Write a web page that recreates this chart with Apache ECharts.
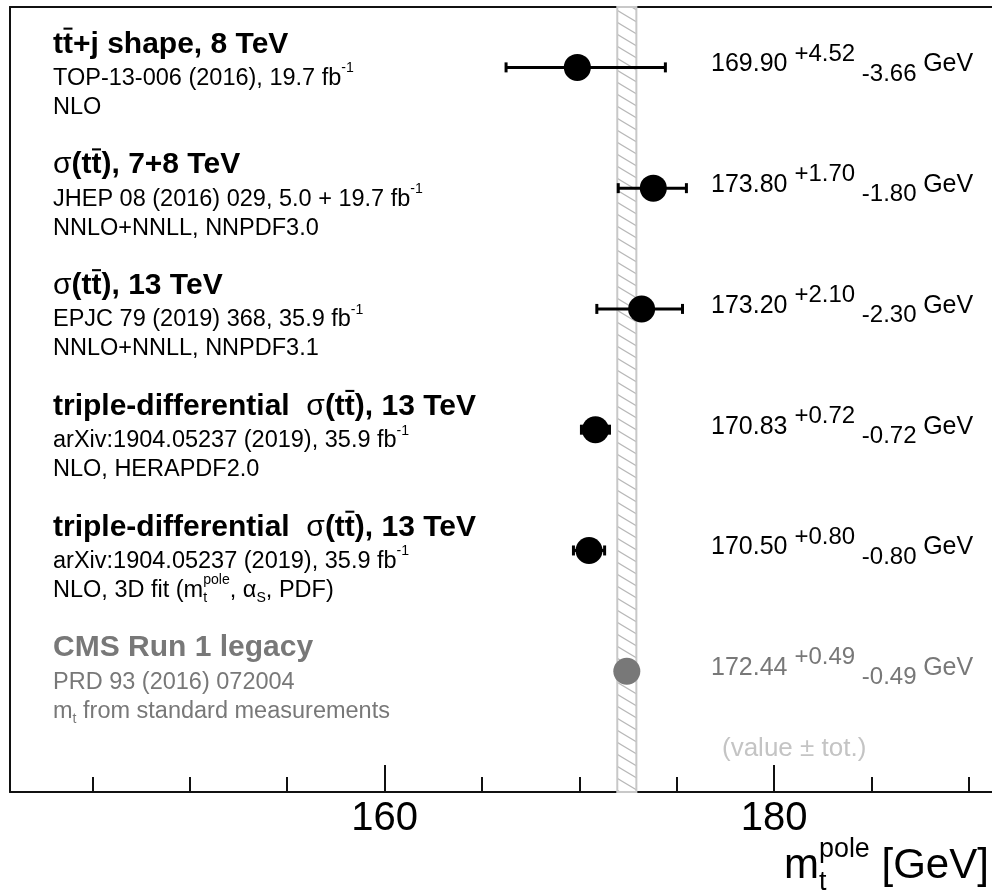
<!DOCTYPE html>
<html><head><meta charset="utf-8">
<script src="https://cdn.jsdelivr.net/npm/echarts@6/dist/echarts.min.js"></script>
<style>html,body{margin:0;padding:0;background:#fff}#c{width:992px;height:893px}</style>
</head><body><div id="c"></div>
<script>
// ---- data ----
const central = [169.90, 173.80, 173.20, 170.83, 170.50, 172.44];
const errUp   = [4.52, 1.70, 2.10, 0.72, 0.80, 0.49];
const errDown = [3.66, 1.80, 2.30, 0.72, 0.80, 0.49];
const rowTitles = [
  "t!{t}+j shape, 8 TeV",
  "~{σ}(t!{t}), 7+8 TeV",
  "~{σ}(t!{t}), 13 TeV",
  "triple-differential  ~{σ}(t!{t}), 13 TeV",
  "triple-differential  ~{σ}(t!{t}), 13 TeV",
  "CMS Run 1 legacy"
];
const rowRefs = [
  "TOP-13-006 (2016), 19.7 fb^{-1}",
  "JHEP 08 (2016) 029, 5.0 + 19.7 fb^{-1}",
  "EPJC 79 (2019) 368, 35.9 fb^{-1}",
  "arXiv:1904.05237 (2019), 35.9 fb^{-1}",
  "arXiv:1904.05237 (2019), 35.9 fb^{-1}",
  "PRD 93 (2016) 072004"
];
const rowMethods = [
  "NLO",
  "NNLO+NNLL, NNPDF3.0",
  "NNLO+NNLL, NNPDF3.1",
  "NLO, HERAPDF2.0",
  "NLO, 3D fit (m#{t}{pole}, α_{S}, PDF)",
  "m_{t} from standard measurements"
];
const refIndex = 5;               // reference row (grey, hatched band)
const minorTicks = [145, 150, 155, 165, 170, 175, 185, 190];
const majorTicks = [160, 180];
const xMin = 140.77, xMax = 191.19;
const axisTitle = "m#{t}{pole} [GeV]";
const bandNote = "(value ± tot.)";

// ---- helpers ----
const FAM = '"Liberation Sans", Arial, Helvetica, sans-serif';
const mctx = document.createElement('canvas').getContext('2d');
function fontOf(size, w){ return w + ' ' + size + 'px ' + FAM; }
function measure(t, f){ mctx.font = f; return mctx.measureText(t).width; }
function parse(s){
  const segs = []; let buf = ''; let i = 0;
  const flush = () => { if (buf) { segs.push({k:'n', t:buf}); buf=''; } };
  const grab = () => { const j = s.indexOf('}', i); const r = s.slice(i+1, j); i = j+1; return r; };
  while (i < s.length){
    const c = s[i];
    if ('^_~!#'.includes(c) && s[i+1] === '{'){
      flush(); i++;
      if (c === '#'){ const a = grab(); const b = grab(); segs.push({k:'#', sub:a, sup:b}); }
      else segs.push({k:c, t:grab()});
    } else { buf += c; i++; }
  }
  flush(); return segs;
}
function layout(str, x0, yc, fs, weight, color, o){
  o = Object.assign({ss:0.6, supDy:-0.42, subDy:0.32}, o||{});
  const out = []; let x = x0;
  const put = (t, px, py, size, w) => {
    const f = fontOf(size, w);
    out.push({type:'text', x:px, y:py, silent:true,
      style:{text:t, font:f, fill:color, align:'left', verticalAlign:'middle', textAlign:'left', textVerticalAlign:'middle'}});
    return measure(t, f);
  };
  for (const g of parse(str)){
    if (g.k === 'n') x += put(g.t, x, yc, fs, weight);
    else if (g.k === '~') x += put(g.t, x, yc, fs, 'normal');
    else if (g.k === '!'){
      const w = put(g.t, x, yc, fs, weight);
      out.push({type:'rect', silent:true, shape:{x:x+w*0.05, y:yc-fs*0.56, width:w*0.9, height:Math.max(1.5, fs*0.07)}, style:{fill:color}});
      x += w;
    }
    else if (g.k === '^') x += put(g.t, x, yc+fs*o.supDy, fs*o.ss, weight);
    else if (g.k === '_') x += put(g.t, x, yc+fs*o.subDy, fs*o.ss, weight);
    else if (g.k === '#'){
      const a = put(g.sub, x, yc+fs*o.subDy, fs*o.ss, weight);
      const b = put(g.sup, x, yc+fs*o.supDy, fs*o.ss, weight);
      x += Math.max(a, b);
    }
  }
  return out;
}
function fmt(v){ return v.toFixed(2); }

// hatch pattern
const pat = document.createElement('canvas');
pat.width = 20; pat.height = 12;
(function(){
  const c = pat.getContext('2d');
  c.fillStyle = '#fff'; c.fillRect(0,0,20,12);
  c.strokeStyle = '#b8b8b8'; c.lineWidth = 1.2;
  c.beginPath();
  c.moveTo(-20,-12); c.lineTo(40,24);
  c.moveTo(-20,0); c.lineTo(20,24);
  c.moveTo(0,-12); c.lineTo(40,12);
  c.stroke();
})();

const GREY = '#787878';
const chart = echarts.init(document.getElementById('c'), null, {renderer:'canvas'});
const xAxisBase = {type:'value', min:xMin, max:xMax, gridIndex:0, splitLine:{show:false}};
chart.setOption({
  animation:false,
  backgroundColor:'#fff',
  grid:{left:10, top:7, right:0, bottom:101, show:false},
  xAxis:[
    Object.assign({}, xAxisBase, {
      position:'bottom',
      axisLine:{show:true, onZero:false, lineStyle:{color:'#111', width:2}},
      axisTick:{show:true, inside:true, length:27, customValues:majorTicks, lineStyle:{color:'#111', width:2}},
      axisLabel:{show:true, customValues:majorTicks, fontSize:40, fontFamily:FAM, color:'#000', margin:7}
    }),
    Object.assign({}, xAxisBase, {
      position:'bottom',
      axisLine:{show:false, onZero:false},
      axisTick:{show:true, inside:true, length:15, customValues:minorTicks, lineStyle:{color:'#111', width:2}},
      axisLabel:{show:false}
    }),
    Object.assign({}, xAxisBase, {
      position:'top',
      axisLine:{show:true, onZero:false, lineStyle:{color:'#111', width:2}},
      axisTick:{show:false}, axisLabel:{show:false}
    })
  ],
  yAxis:{type:'value', inverse:true, min:-0.5, max:6.0, position:'left',
    axisLine:{show:true, onZero:false, lineStyle:{color:'#111', width:2}},
    axisTick:{show:false}, axisLabel:{show:false}, splitLine:{show:false}},
  series:[
    {
      type:'custom', name:'labels', z:5, clip:false,
      data: central.map((c,i)=>[xMin, i]),
      encode:{x:0, y:1},
      renderItem:(params, api)=>{
        const i = api.value(1);
        const p = api.coord([xMin, i]);
        const col = i === refIndex ? GREY : '#000';
        const lx = p[0] + 43;
        let ch = [];
        ch = ch.concat(layout(rowTitles[i], lx, p[1]-23, 30, 'bold', col));
        ch = ch.concat(layout(rowRefs[i], lx, p[1]+11, 23.5, 'normal', col));
        ch = ch.concat(layout(rowMethods[i], lx, p[1]+40, 23.5, 'normal', col));
        const vs = fmt(central[i]) + ' ^{+' + fmt(errUp[i]) + ' }_{-' + fmt(errDown[i]) + ' }GeV';
        ch = ch.concat(layout(vs, 711, p[1]-3, 25, 'normal', col, {ss:0.96, supDy:-0.42, subDy:0.38}));
        if (i === refIndex) ch = ch.concat(layout(bandNote, 722, p[1]+78, 26, 'normal', '#c4c4c4'));
        return {type:'group', children:ch};
      }
    },
    {
      type:'custom', name:'errors', z:3,
      data: central.map((c,i)=>[c-errDown[i], c+errUp[i], i]),
      encode:{x:[0,1], y:2},
      renderItem:(params, api)=>{
        const i = api.value(2);
        const lo = api.coord([api.value(0), i]);
        const hi = api.coord([api.value(1), i]);
        const st = {stroke: i===refIndex ? GREY : '#000', lineWidth:3};
        return {type:'group', children:[
          {type:'line', shape:{x1:lo[0], y1:lo[1], x2:hi[0], y2:hi[1]}, style:st},
          {type:'line', shape:{x1:lo[0], y1:lo[1]-5, x2:lo[0], y2:lo[1]+5}, style:st},
          {type:'line', shape:{x1:hi[0], y1:hi[1]-5, x2:hi[0], y2:hi[1]+5}, style:st}
        ]};
      }
    },
    {
      type:'scatter', name:'points', z:4,
      symbol:'circle', symbolSize:27,
      itemStyle:{opacity:1},
      data: central.map((c,i)=>({value:[c,i], itemStyle:{color: i===refIndex ? GREY : '#000', opacity:1}})),
      markArea:{
        silent:true, z:1,
        itemStyle:{color:{image:pat, repeat:'repeat'}, borderColor:'#c8c8c8', borderWidth:2, opacity:1},
        data:[[{xAxis: central[refIndex]-errDown[refIndex]}, {xAxis: central[refIndex]+errUp[refIndex]}]]
      }
    }
  ],
  graphic:{elements: layout(axisTitle, 784, 866, 42, 'normal', '#000', {ss:0.64, supDy:-0.38, subDy:0.4})}
});
</script>
</body></html>
